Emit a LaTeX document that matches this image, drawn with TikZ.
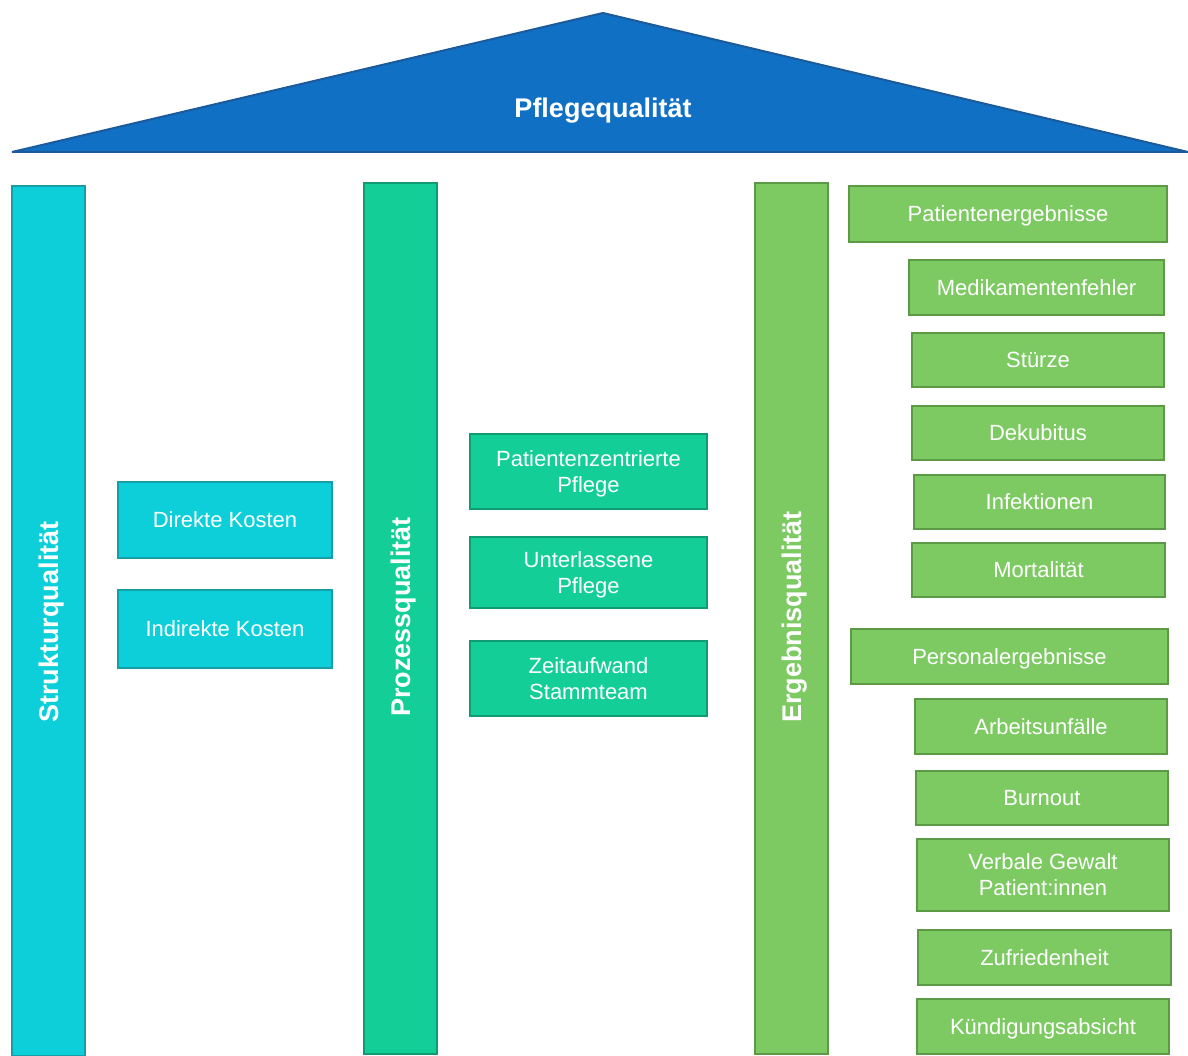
\documentclass[tikz,border=0pt]{standalone}
\usepackage{fontspec}
\setmainfont{Liberation Sans}
\usepackage{xcolor,tikz}

\definecolor{roofblue}{HTML}{1070C4}
\definecolor{roofline}{HTML}{1B5A9B}
\definecolor{cyanfill}{HTML}{0DCFD9}
\definecolor{cyanline}{HTML}{159DA8}
\definecolor{tealfill}{HTML}{13CF97}
\definecolor{tealline}{HTML}{0F9C73}
\definecolor{greenfill}{HTML}{7DCA63}
\definecolor{greenline}{HTML}{5C9A46}

\begin{document}
\begin{tikzpicture}[x=1pt,y=-1pt,
  every node/.style={inner sep=0pt,outer sep=0pt,align=center,text=white,
                     font=\fontsize{22}{26}\selectfont},
  box/.style={draw,line width=2pt,rectangle,text depth=0pt},
  pillar/.style={box,minimum width=73pt},
  title/.style={font=\fontsize{27}{30}\selectfont\bfseries,text depth=0pt},
  cyanbox/.style={box,fill=cyanfill,draw=cyanline},
  tealbox/.style={box,fill=tealfill,draw=tealline},
  greenbox/.style={box,fill=greenfill,draw=greenline}]
\useasboundingbox (0,0) rectangle (1188,1056);

% roof
\draw[fill=roofblue,draw=roofline,line width=2pt,line join=bevel]
  (12,152) -- (603,13) -- (1188,152) -- cycle;
\node[title] (roof) at (603,108) {Pflegequalität};

% pillars
\node[pillar,cyanbox,minimum height=870pt] (struktur) at (48.5,621) {};
\node[title,rotate=90] at (48.5,622) {Strukturqualität};
\node[pillar,tealbox,minimum height=871pt] (prozess) at (400.5,618.5) {};
\node[title,rotate=90] at (400.5,617) {Prozessqualität};
\node[pillar,greenbox,minimum height=871pt] (ergebnis) at (791.5,618.5) {};
\node[title,rotate=90] at (791.5,617) {Ergebnisqualität};

% Strukturqualitaet
\node[cyanbox,minimum width=214pt,minimum height=76pt] (direkt)   at (225,519.5) {Direkte Kosten};
\node[cyanbox,minimum width=214pt,minimum height=78pt] (indirekt) at (225,629)   {Indirekte Kosten};

% Prozessqualitaet
\node[tealbox,minimum width=237pt,minimum height=75pt] (zentriert)   at (588.5,471.5) {Patientenzentrierte\\Pflege};
\node[tealbox,minimum width=237pt,minimum height=71pt] (unterlassen) at (588.5,572.5) {Unterlassene\\Pflege};
\node[tealbox,minimum width=237pt,minimum height=75pt] (zeit)        at (588.5,678.5) {Zeitaufwand\\Stammteam};

% Ergebnisqualitaet
\node[greenbox,minimum width=318pt,minimum height=56pt] (patient)   at (1008,214)     {Patientenergebnisse};
\node[greenbox,minimum width=255pt,minimum height=55pt] (medik)     at (1036.5,287.5) {Medikamentenfehler};
\node[greenbox,minimum width=252pt,minimum height=54pt] (sturz)     at (1038,360)     {Stürze};
\node[greenbox,minimum width=252pt,minimum height=54pt] (dekub)     at (1038,433)     {Dekubitus};
\node[greenbox,minimum width=251pt,minimum height=54pt] (infekt)    at (1039.5,502)   {Infektionen};
\node[greenbox,minimum width=253pt,minimum height=54pt] (mort)      at (1038.5,570)   {Mortalität};
\node[greenbox,minimum width=317pt,minimum height=55pt] (personal)  at (1009.5,656.5) {Personalergebnisse};
\node[greenbox,minimum width=252pt,minimum height=55pt] (unfall)    at (1041,726.5)   {Arbeitsunfälle};
\node[greenbox,minimum width=252pt,minimum height=54pt] (burnout)   at (1042,798)     {Burnout};
\node[greenbox,minimum width=252pt,minimum height=72pt] (gewalt)    at (1043,875)     {Verbale Gewalt\\Patient:innen};
\node[greenbox,minimum width=253pt,minimum height=55pt] (zufrieden) at (1044.5,957.5) {Zufriedenheit};
\node[greenbox,minimum width=252pt,minimum height=55pt] (kuendig)   at (1043,1026.5)  {Kündigungsabsicht};
\end{tikzpicture}
\end{document}
